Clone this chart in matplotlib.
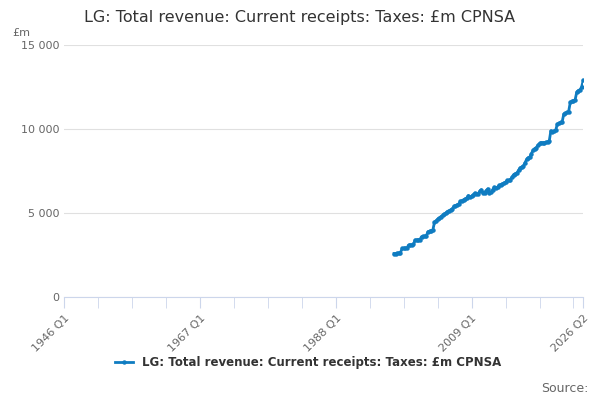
import matplotlib
matplotlib.use("Agg")
import matplotlib.pyplot as plt
import numpy as np

# quarterly values, 1997 Q1 .. 2026 Q2 (£m)
start_year = 1997
values = [
    2600, 2600, 2620, 2640,   # 1997
    2660, 2900, 2910, 2920,   # 1998
    2930, 3100, 3110, 3120,   # 1999
    3140, 3400, 3410, 3420,   # 2000
    3430, 3600, 3620, 3640,   # 2001
    3660, 3900, 3930, 3960,   # 2002
    4000, 4450, 4550, 4650,   # 2003
    4700, 4800, 4870, 4950,   # 2004
    5000, 5100, 5150, 5200,   # 2005
    5250, 5400, 5450, 5500,   # 2006
    5550, 5700, 5750, 5800,   # 2007
    5850, 5900, 6050, 5950,   # 2008
    6000, 6100, 6200, 6150,   # 2009
    6150, 6300, 6400, 6200,   # 2010
    6200, 6350, 6450, 6200,   # 2011
    6250, 6400, 6550, 6500,   # 2012
    6550, 6650, 6700, 6750,   # 2013
    6800, 6850, 6950, 6950,   # 2014
    7000, 7150, 7300, 7350,   # 2015
    7400, 7550, 7700, 7750,   # 2016
    7800, 8000, 8200, 8300,   # 2017
    8350, 8550, 8750, 8850,   # 2018
    8900, 9050, 9150, 9200,   # 2019
    9200, 9200, 9220, 9250,   # 2020
    9300, 9900, 9850, 9900,   # 2021
    9950, 10300, 10350, 10400,  # 2022
    10450, 10900, 10950, 11000,  # 2023
    11050, 11600, 11650, 11700,  # 2024
    11750, 12200, 12300, 12350,  # 2025
    12500, 12900,                # 2026
]
x = start_year + np.arange(len(values)) / 4.0

tick_pos = [1946, 1967, 1988, 2009, 2026.25]
tick_labels = ["1946 Q1", "1967 Q1", "1988 Q1", "2009 Q1", "2026 Q2"]

fig = plt.figure(figsize=(6, 4), dpi=100)
ax = fig.add_axes([0.107, 0.257, 0.865, 0.63])
ax.plot(x, values, color="#0f7cc1", lw=2, marker="o", ms=2.2,
        label="LG: Total revenue: Current receipts: Taxes: £m CPNSA")

ax.set_xlim(1946, 2026.25)
ax.set_ylim(0, 15000)
ax.set_yticks([0, 5000, 10000, 15000])
ax.set_yticklabels(["0", "5 000", "10 000", "15 000"])
ax.grid(axis="y", color="#e0e0e0", lw=0.8)
ax.set_xticks(tick_pos)
ax.set_xticklabels(tick_labels, rotation=45, ha="right", rotation_mode="anchor")
ax.set_xticks(np.arange(1946, 2027, 5.25), minor=True)
ax.tick_params(axis="x", which="both", length=8, color="#ccd6eb")
ax.tick_params(axis="y", length=0)
ax.tick_params(labelsize=8, labelcolor="#666666")
for side in ["top", "right", "left"]:
    ax.spines[side].set_visible(False)
ax.spines["bottom"].set_color("#ccd6eb")
ax.set_axisbelow(True)

fig.text(0.02, 0.91, "£m", fontsize=8, color="#666666")
fig.text(0.5, 0.945, "LG: Total revenue: Current receipts: Taxes: £m CPNSA",
         ha="center", fontsize=11.5, color="#333333")
ax.legend(loc="upper center", bbox_to_anchor=(0.47, -0.19), frameon=False,
          prop={"size": 8.5, "weight": "bold"}, labelcolor="#333333", handlelength=1.5)
fig.text(0.98, 0.02, "Source:", ha="right", fontsize=9, color="#666666")

fig.savefig("out.png")
